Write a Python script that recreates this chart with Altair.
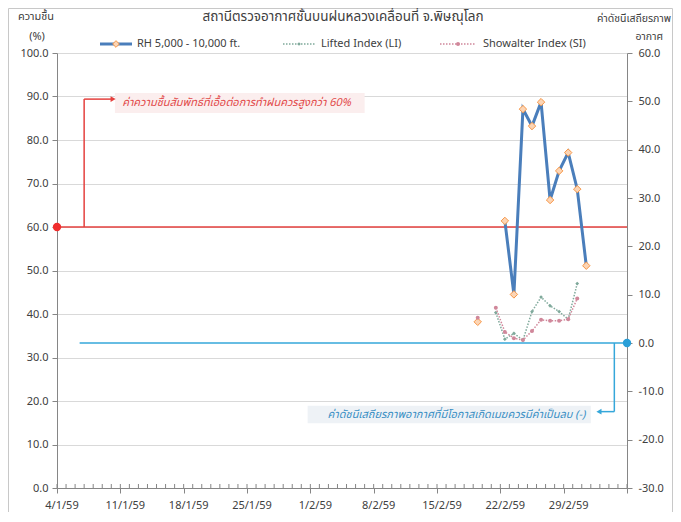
import json
import altair as alt
import pandas as pd

# ---------------- data ----------------
START = "2016-01-04"          # 4/1/59 (first day on the axis)
N_DAYS = 63                   # axis runs 4/1/59 .. 7/3/59

rh_dates = ["2016-02-19", "2016-02-22", "2016-02-23", "2016-02-24", "2016-02-25",
            "2016-02-26", "2016-02-27", "2016-02-28", "2016-02-29", "2016-03-01",
            "2016-03-02"]
rh_values = [38.2, 61.4, 44.5, 87.1, 83.2, 88.7, 66.2, 72.9, 77.1, 68.7, 51.1]
rh_segment = [0, 1, 1, 1, 1, 1, 1, 1, 1, 1, 1]

li_dates = ["2016-02-21", "2016-02-22", "2016-02-23", "2016-02-24", "2016-02-25",
            "2016-02-26", "2016-02-27", "2016-02-28", "2016-02-29", "2016-03-01"]
li_values = [6.3, 0.8, 2.0, 0.6, 6.5, 9.5, 7.7, 6.5, 4.9, 12.3]

si_dates = ["2016-02-19", "2016-02-21", "2016-02-22", "2016-02-23", "2016-02-24",
            "2016-02-25", "2016-02-26", "2016-02-27", "2016-02-28", "2016-02-29",
            "2016-03-01"]
si_values = [5.2, 7.3, 2.3, 1.0, 0.6, 2.5, 4.8, 4.6, 4.6, 4.9, 9.2]
si_segment = [0, 1, 1, 1, 1, 1, 1, 1, 1, 1, 1]

tick_labels = ["4/1/59", "11/1/59", "18/1/59", "25/1/59", "1/2/59", "8/2/59",
               "15/2/59", "22/2/59", "29/2/59"]

rh_threshold = 60
idx_threshold = 0

title_text = "สถานีตรวจอากาศชั้นบนฝนหลวงเคลื่อนที่  จ.พิษณุโลก"
left_title = ["ความชื้น", "(%)"]
right_title = ["ค่าดัชนีเสถียรภาพ", "อากาศ"]
series_names = ["RH 5,000 - 10,000 ft.", "Lifted Index (LI)", "Showalter Index (SI)"]
red_note = "ค่าความชื้นสัมพัทธ์ที่เอื้อต่อการทำฝนควรสูงกว่า 60%"
blue_note = "ค่าดัชนีเสถียรภาพอากาศที่มีโอกาสเกิดเมฆควรมีค่าเป็นลบ (-)"

# ---------------- helpers ----------------
t0 = pd.Timestamp(START)


def day_pos(dates):
    # centre of each day slot on the date axis
    return [(pd.Timestamp(d) - t0).days + 0.5 for d in dates]


rh_df = pd.DataFrame({"day": day_pos(rh_dates), "v": rh_values, "seg": rh_segment})
li_df = pd.DataFrame({"day": day_pos(li_dates), "v": li_values})
si_df = pd.DataFrame({"day": day_pos(si_dates), "v": si_values, "seg": si_segment})
minor_df = pd.DataFrame({"day": list(range(0, N_DAYS + 1))})
one = pd.DataFrame({"a": [0]})

W, H = 570, 435
FONT = "Tahoma, 'Noto Sans Thai', 'Noto Sans', 'DejaVu Sans', sans-serif"
TXT = "#404040"
AX = "#868686"
GRID = "#d9d9d9"
BLUE_SERIES = "#4a7ebb"
ORANGE = "#f79646"
ORANGE_FILL = "#fcd5b5"
LI_COL = "#7fa99b"
SI_COL = "#d0879a"
RED = "#e5413e"
CYAN = "#35a7da"

XS = alt.Scale(domain=[0, N_DAYS], nice=False, zero=False)
YL = alt.Scale(domain=[0, 100], nice=False, zero=False)
YR = alt.Scale(domain=[-30, 60], nice=False, zero=False)

label_expr = ("datum.value < %d ? %s[round(datum.value / 7)] : ''"
              % (N_DAYS, json.dumps(tick_labels, ensure_ascii=False)))

x_axis = alt.Axis(values=list(range(0, N_DAYS + 1, 7)), labelExpr=label_expr,
                  labelOffset=4.5, labelFlush=False, labelOverlap=False,
                  tickSize=5, tickColor=AX, domainColor=AX, labelColor=TXT,
                  labelFont=FONT, labelFontSize=11, labelPadding=6, grid=False,
                  title=None)
left_axis = alt.Axis(values=list(range(0, 101, 10)), format=".1f", grid=True,
                     gridColor=GRID, domainColor=AX, tickColor=AX, tickSize=5,
                     labelColor=TXT, labelFont=FONT, labelFontSize=11,
                     labelPadding=4, title=None)
right_axis = alt.Axis(orient="right", values=list(range(-30, 61, 10)), format=".1f",
                      grid=False, domainColor=AX, tickColor=AX, tickSize=5,
                      labelColor=TXT, labelFont=FONT, labelFontSize=11,
                      labelPadding=6, title=None)


def X(field="day"):
    return alt.X(field, type="quantitative", scale=XS, axis=x_axis)


def YLf(field):
    return alt.Y(field, type="quantitative", scale=YL, axis=left_axis)


def YRf(field):
    return alt.Y(field, type="quantitative", scale=YR, axis=right_axis)


# ---------------- left (RH) group ----------------
frame = alt.Chart(one).mark_rect(fillOpacity=0, stroke="#c8c8c8", strokeWidth=1).encode(
    x=alt.value(-48.5), x2=alt.value(W + 45.5), y=alt.value(-44.5), y2=alt.value(H + 60))

red_box = alt.Chart(pd.DataFrame({"x": [6.4], "x2": [34.0], "y": [90.8], "y2": [86.2]})
                    ).mark_rect(color="#fbeeee").encode(
    x=X("x"), x2="x2", y=YLf("y"), y2="y2")

red_rule = alt.Chart(pd.DataFrame({"v": [rh_threshold]})).mark_rule(
    color=RED, strokeWidth=1.5).encode(y=YLf("v"))

red_vert = alt.Chart(pd.DataFrame({"x": [3.0], "y": [rh_threshold], "y2": [89.4]})
                     ).mark_rule(color=RED, strokeWidth=1.5).encode(
    x=X("x"), y=YLf("y"), y2="y2")
red_horz = alt.Chart(pd.DataFrame({"x": [3.0], "x2": [6.2], "y": [89.4]})
                     ).mark_rule(color=RED, strokeWidth=1.5).encode(
    x=X("x"), x2="x2", y=YLf("y"))
red_arrow = alt.Chart(pd.DataFrame({"x": [6.2], "y": [89.4]})).mark_point(
    shape="triangle-right", filled=True, color=RED, size=35, opacity=1).encode(
    x=X("x"), y=YLf("y"))
red_dot = alt.Chart(pd.DataFrame({"x": [0], "y": [rh_threshold]})).mark_circle(
    color="#f02d2d", size=70, opacity=1).encode(x=X("x"), y=YLf("y"))
red_text = alt.Chart(pd.DataFrame({"x": [7.2], "y": [88.4], "t": [red_note]})).mark_text(
    align="left", baseline="middle", fontStyle="italic", color="#e24a4a",
    font=FONT, fontSize=11).encode(x=X("x"), y=YLf("y"), text="t")

minor_ticks = alt.Chart(minor_df).mark_rule(color=AX, strokeWidth=1).encode(
    x=X("day"), y=alt.value(H - 4), y2=alt.value(H))

rh_line = alt.Chart(rh_df).mark_line(color=BLUE_SERIES, strokeWidth=3).encode(
    x=X("day"), y=YLf("v"), detail="seg:N")
rh_pts = alt.Chart(rh_df).mark_point(shape="diamond", filled=True, fill=ORANGE_FILL,
                                     stroke=ORANGE, strokeWidth=1, size=55,
                                     opacity=1).encode(x=X("day"), y=YLf("v"))


def label(text, x, y, size=11, align="center", color=TXT):
    return alt.Chart(pd.DataFrame({"t": [text]})).mark_text(
        align=align, baseline="middle", font=FONT, fontSize=size, color=color).encode(
        x=alt.value(x), y=alt.value(y), text="t")


titles = [
    label(title_text, 286, -36, size=13.5),
    label(left_title[0], -21, -36),
    label(left_title[1], -20, -16),
    label(right_title[0], 614, -34, size=10.5, align="right"),
    label(right_title[1], 606, -16, size=10.5, align="right"),
]

LY = -9
legend_layers = [
    alt.Chart(one).mark_rule(color=BLUE_SERIES, strokeWidth=3).encode(
        x=alt.value(43), x2=alt.value(75), y=alt.value(LY)),
    alt.Chart(one).mark_point(shape="diamond", filled=True, fill=ORANGE_FILL,
                              stroke=ORANGE, strokeWidth=1, size=45, opacity=1).encode(
        x=alt.value(59), y=alt.value(LY)),
    label(series_names[0], 80, LY, align="left"),
    alt.Chart(one).mark_rule(color=LI_COL, strokeWidth=1.5, strokeDash=[1.5, 1.5]).encode(
        x=alt.value(226), x2=alt.value(258), y=alt.value(LY)),
    alt.Chart(one).mark_point(shape="diamond", filled=True, color=LI_COL, size=14,
                              opacity=1).encode(x=alt.value(242), y=alt.value(LY)),
    label(series_names[1], 264, LY, align="left"),
    alt.Chart(one).mark_rule(color=SI_COL, strokeWidth=1.5, strokeDash=[1.5, 1.5]).encode(
        x=alt.value(383), x2=alt.value(419), y=alt.value(LY)),
    alt.Chart(one).mark_circle(color=SI_COL, size=16, opacity=1).encode(
        x=alt.value(401), y=alt.value(LY)),
    label(series_names[2], 426, LY, align="left"),
]

left = alt.layer(frame, red_box, red_rule, red_vert, red_horz, red_arrow, red_text,
                 minor_ticks, rh_line, rh_pts, red_dot, *titles, *legend_layers)

# ---------------- right (stability index) group ----------------
blue_box = alt.Chart(pd.DataFrame({"x": [27.7], "x2": [59.0], "y": [-13.0], "y2": [-16.6]})
                     ).mark_rect(color="#eef2f6").encode(
    x=X("x"), x2="x2", y=YRf("y"), y2="y2")
blue_rule = alt.Chart(pd.DataFrame({"x": [2.5], "x2": [N_DAYS], "y": [idx_threshold]})
                      ).mark_rule(color=CYAN, strokeWidth=1.5).encode(
    x=X("x"), x2="x2", y=YRf("y"))
blue_vert = alt.Chart(pd.DataFrame({"x": [61.6], "y": [idx_threshold], "y2": [-14.2]})
                      ).mark_rule(color=CYAN, strokeWidth=1.5).encode(
    x=X("x"), y=YRf("y"), y2="y2")
blue_horz = alt.Chart(pd.DataFrame({"x": [59.9], "x2": [61.6], "y": [-14.2]})
                      ).mark_rule(color=CYAN, strokeWidth=1.5).encode(
    x=X("x"), x2="x2", y=YRf("y"))
blue_arrow = alt.Chart(pd.DataFrame({"x": [59.9], "y": [-14.2]})).mark_point(
    shape="triangle-left", filled=True, color=CYAN, size=35, opacity=1).encode(
    x=X("x"), y=YRf("y"))
blue_dot = alt.Chart(pd.DataFrame({"x": [N_DAYS], "y": [idx_threshold]})).mark_circle(
    color="#2a9fd8", size=70, opacity=1).encode(x=X("x"), y=YRf("y"))
blue_text = alt.Chart(pd.DataFrame({"x": [58.4], "y": [-14.9], "t": [blue_note]})).mark_text(
    align="right", baseline="middle", fontStyle="italic", color="#3a8fc4",
    font=FONT, fontSize=11).encode(x=X("x"), y=YRf("y"), text="t")

li_line = alt.Chart(li_df).mark_line(color=LI_COL, strokeWidth=1.5,
                                     strokeDash=[1.5, 1.5]).encode(x=X("day"), y=YRf("v"))
li_pts = alt.Chart(li_df).mark_point(shape="diamond", filled=True, color=LI_COL,
                                     size=14, opacity=1).encode(x=X("day"), y=YRf("v"))
si_line = alt.Chart(si_df).mark_line(color=SI_COL, strokeWidth=1.5,
                                     strokeDash=[1.5, 1.5]).encode(
    x=X("day"), y=YRf("v"), detail="seg:N")
si_pts = alt.Chart(si_df).mark_circle(color=SI_COL, size=16, opacity=1).encode(
    x=X("day"), y=YRf("v"))

right = alt.layer(blue_box, blue_rule, blue_vert, blue_horz, blue_arrow, blue_text,
                  li_line, li_pts, si_line, si_pts, blue_dot)

chart = alt.layer(left, right).resolve_scale(y="independent").properties(
    width=W, height=H, autosize=alt.AutoSizeParams(type="none"),
    padding={"left": 49, "top": 45, "right": 46, "bottom": 24},
    background="white",
).configure_view(strokeWidth=0)

chart.save("out.html", embed_options={"renderer": "svg", "actions": False})
